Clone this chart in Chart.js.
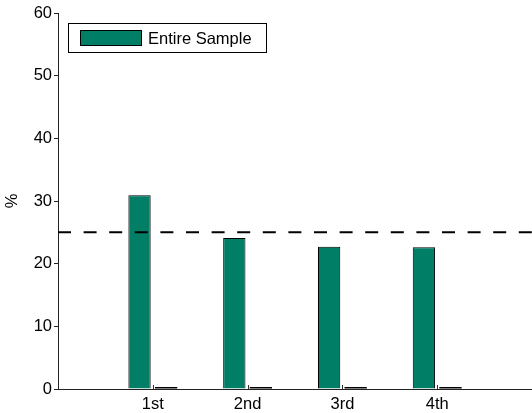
<!DOCTYPE html>
<html>
<head>
<meta charset="utf-8">
<script src="https://cdn.jsdelivr.net/npm/chart.js@4.4.1/dist/chart.umd.min.js"></script>
<style>
  html, body { margin: 0; padding: 0; background: #fff; overflow: hidden; }
  #wrap { width: 532px; height: 413px; position: relative; }
</style>
</head>
<body>
<div id="wrap"><canvas id="c"></canvas></div>
<script>
// Quartile positions on the x axis and their tick labels
const positions = [1, 2, 3, 4];
const tickLabels = ['1st', '2nd', '3rd', '4th'];
// Share (%) for the entire sample in each quartile
const entireSample = [30.9, 24.1, 22.7, 22.6];
// Companion series, empty in every quartile
const companion = [0, 0, 0, 0];
// Reference level drawn as a dashed line
const referenceLevel = 25;

const FONT = "'Liberation Sans', Arial, Helvetica, sans-serif";
const GREEN = '#007f66';

// Legend box drawn inside the plot area, built from the labelled datasets
const boxLegend = {
  id: 'boxLegend',
  afterDraw(chart) {
    const ctx = chart.ctx;
    const items = chart.data.datasets.filter(d => d.type !== 'line' && d.label);
    ctx.save();
    const x0 = 68.5, y0 = 23.5, w = 198, h = 29;
    ctx.fillStyle = '#fff';
    ctx.fillRect(x0, y0, w, h);
    ctx.strokeStyle = '#000';
    ctx.lineWidth = 1;
    ctx.strokeRect(x0, y0, w, h);
    items.forEach((d, i) => {
      const sy = 30.5 + i * 20;
      ctx.fillStyle = d.backgroundColor;
      ctx.fillRect(80.5, sy, 61, 15);
      ctx.strokeRect(80.5, sy, 61, 15);
      ctx.fillStyle = '#000';
      ctx.font = '16.5px ' + FONT;
      ctx.textBaseline = 'middle';
      ctx.textAlign = 'left';
      ctx.fillText(d.label, 148, sy + 8.5);
    });
    ctx.restore();
  }
};

// Short inward tick marks on the x axis at labelled positions
const innerXTicks = {
  id: 'innerXTicks',
  afterDatasetsDraw(chart) {
    const xs = chart.scales.x;
    const ctx = chart.ctx;
    const bottom = chart.chartArea.bottom;
    ctx.save();
    ctx.strokeStyle = '#333';
    ctx.lineWidth = 1;
    positions.forEach(v => {
      const px = Math.round(xs.getPixelForValue(v)) + 0.5;
      ctx.beginPath();
      ctx.moveTo(px, bottom);
      ctx.lineTo(px, bottom - 4);
      ctx.stroke();
    });
    ctx.restore();
  }
};

const toPoints = vals => vals.map((v, i) => ({ x: positions[i], y: v }));

new Chart(document.getElementById('c'), {
  type: 'bar',
  data: {
    datasets: [
      {
        type: 'line',
        label: '',
        data: [{ x: 0, y: referenceLevel }, { x: 5, y: referenceLevel }],
        borderColor: '#000',
        borderWidth: 2,
        borderDash: [13, 12.6],
        pointRadius: 0,
        fill: false,
        order: 0
      },
      {
        label: 'Entire Sample',
        data: toPoints(entireSample),
        backgroundColor: GREEN,
        borderColor: '#000',
        borderWidth: 1,
        categoryPercentage: 0.56,
        barPercentage: 0.84,
        order: 1
      },
      {
        label: '',
        data: toPoints(companion),
        backgroundColor: '#000',
        borderColor: '#000',
        borderWidth: 0,
        minBarLength: 2,
        categoryPercentage: 0.56,
        barPercentage: 0.84,
        order: 1
      }
    ]
  },
  options: {
    responsive: true,
    maintainAspectRatio: false,
    animation: false,
    devicePixelRatio: 1,
    layout: { padding: { top: 13, right: 0, bottom: 0, left: 0 } },
    plugins: {
      legend: { display: false },
      tooltip: { enabled: false }
    },
    scales: {
      x: {
        type: 'linear',
        min: 0,
        max: 5,
        offset: false,
        afterBuildTicks(s) { s.ticks = positions.map(v => ({ value: v })); },
        afterFit(s) { s.height = 24; s.paddingLeft = 0; s.paddingRight = 0; },
        grid: { drawOnChartArea: false, drawTicks: false },
        border: { color: '#222', width: 1 },
        ticks: {
          padding: 6,
          color: '#000',
          maxRotation: 0,
          font: { family: FONT, size: 16.5 },
          callback: v => tickLabels[positions.indexOf(v)] ?? ''
        }
      },
      y: {
        min: 0,
        max: 60,
        afterFit(s) { s.width = 58; },
        grid: { drawOnChartArea: false, drawTicks: true, tickLength: 4, tickColor: '#222' },
        border: { color: '#222', width: 1 },
        ticks: {
          stepSize: 10,
          padding: 2,
          color: '#000',
          font: { family: FONT, size: 16.5 }
        },
        title: {
          display: true,
          text: '%',
          color: '#000',
          padding: { top: 3, bottom: 0 },
          font: { family: FONT, size: 16.5 }
        }
      }
    }
  },
  plugins: [innerXTicks, boxLegend]
});
</script>
</body>
</html>
